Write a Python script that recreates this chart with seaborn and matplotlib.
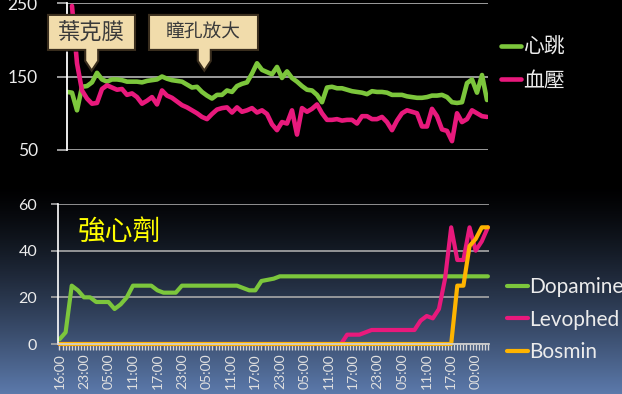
import numpy as np
import pandas as pd
import matplotlib
matplotlib.use("Agg")
import matplotlib.pyplot as plt
from matplotlib.patches import Polygon
from matplotlib.lines import Line2D
from matplotlib.ticker import MultipleLocator
import seaborn as sns

# ---------------- vital signs (regular samples) ----------------
heart_rate = [
    129, 128, 104, 136, 137, 142, 155, 146, 143, 146,
    146, 145, 143, 143, 143, 142, 144, 145, 146, 150,
    147, 145, 144, 143, 139, 135, 136, 129, 124, 120,
    125, 125, 131, 129, 137, 140, 142, 154, 168, 159,
    156, 153, 163, 148, 157, 148, 143, 137, 132, 131,
    125, 115, 135, 136, 134, 134, 132, 130, 129, 128,
    126, 130, 129, 129, 128, 125, 125, 125, 123, 122,
    121, 121, 122, 124, 124, 125, 122, 115, 114, 115,
    141, 146, 128, 152, 118,
]
blood_pressure = [
    np.nan, 246, 168, 131, 120, 113, 114, 133, 138, 135,
    132, 133, 125, 127, 122, 113, 117, 122, 112, 131,
    124, 121, 116, 111, 108, 104, 100, 95, 92, 99,
    105, 107, 108, 101, 108, 102, 104, 107, 101, 104,
    99, 85, 77, 88, 86, 104, 71, 107, 102, 106,
    112, 100, 91, 91, 92, 90, 91, 91, 86, 96,
    96, 92, 92, 95, 88, 77, 90, 100, 104, 102,
    100, 82, 82, 106, 96, 78, 76, 62, 100, 88,
    92, 104, 100, 96, 95,
]
vital_names = ["心跳", "血壓"]

# events marked on the vital-sign chart: (label, sample index)
events = [("葉克膜", 4.94), ("瞳孔放大", 27.46)]

# ---------------- inotropes / vasopressors ----------------
time_labels = ["16:00", "23:00", "05:00", "11:00", "17:00", "23:00",
               "05:00", "11:00", "17:00", "23:00", "05:00", "11:00",
               "17:00", "23:00", "05:00", "11:00", "17:00", "00:00"]
dopamine = [
    2, 5, 25, 23, 20, 20, 18, 18, 18, 15,
    17, 20, 25, 25, 25, 25, 23, 22, 22, 22,
    25, 25, 25, 25, 25, 25, 25, 25, 25, 25,
    24, 23, 23, 27, 27.5, 28, 29, 29, 29, 29,
    29, 29, 29, 29, 29, 29, 29, 29, 29, 29,
    29, 29, 29, 29, 29, 29, 29, 29, 29, 29,
    29, 29, 29, 29, 29, 29, 29, 29, 29, 29,
    29,
]
levophed = [
    0, 0, 0, 0, 0, 0, 0, 0, 0, 0,
    0, 0, 0, 0, 0, 0, 0, 0, 0, 0,
    0, 0, 0, 0, 0, 0, 0, 0, 0, 0,
    0, 0, 0, 0, 0, 0, 0, 0, 0, 0,
    0, 0, 0, 0, 0, 0, 0, 4, 4, 4,
    5, 6, 6, 6, 6, 6, 6, 6, 6, 10,
    12, 11, 15, 28, 50, 36, 36, 50, 40, 44,
    50,
]
bosmin = [
    0, 0, 0, 0, 0, 0, 0, 0, 0, 0,
    0, 0, 0, 0, 0, 0, 0, 0, 0, 0,
    0, 0, 0, 0, 0, 0, 0, 0, 0, 0,
    0, 0, 0, 0, 0, 0, 0, 0, 0, 0,
    0, 0, 0, 0, 0, 0, 0, 0, 0, 0,
    0, 0, 0, 0, 0, 0, 0, 0, 0, 0,
    0, 0, 0, 0, 0, 25, 25, 42, 45, 50,
    50,
]
drug_names = ["Dopamine", "Levophed", "Bosmin"]

GREEN, PINK, ORANGE = "#7cc63c", "#e8197c", "#ffb400"
GRID = "#a8a8a8"
TEXT = "#ececec"

sns.set_theme(style="ticks")
plt.rcParams["font.family"] = ["Lato", "Noto Sans CJK TC", "DejaVu Sans"]

W, H = 622, 394
fig = plt.figure(figsize=(W / 100, H / 100), dpi=100)

# slide background: black fading into blue towards the bottom
bg = fig.add_axes([0, 0, 1, 1], zorder=-10)
rows = np.arange(H)
t = np.clip((rows - 185) / (H - 185), 0, 1) ** 1.3
grad = np.outer(t, [92, 122, 172]) / 255.0
bg.imshow(np.repeat(grad[:, None, :], 2, axis=1), aspect="auto",
          extent=[0, 1, 0, 1])
bg.axis("off")


def px_axes(left, top, right, bottom):
    return fig.add_axes([left / W, (H - bottom) / H,
                         (right - left) / W, (bottom - top) / H])


# ---------------- vital-sign chart ----------------
ax1 = px_axes(67, 3, 488, 150)
ax1.set_facecolor("none")
vit = pd.DataFrame({"sample": np.arange(len(heart_rate)),
                    vital_names[0]: heart_rate,
                    vital_names[1]: blood_pressure})
vit = vit.melt(id_vars="sample", var_name="series", value_name="value")
sns.lineplot(data=vit, x="sample", y="value", hue="series",
             palette={vital_names[0]: GREEN, vital_names[1]: PINK},
             estimator=None, lw=3.3, legend=False, ax=ax1)
ax1.set_xlim(0, len(heart_rate) - 0.8)
ax1.set_ylim(50, 250)
ax1.set_yticks([50, 150, 250])
ax1.set_xticks([])
ax1.set_xlabel("")
ax1.set_ylabel("")
ax1.grid(axis="y", color=GRID, lw=1.3)
ax1.set_axisbelow(True)
for s in ["top", "right", "bottom"]:
    ax1.spines[s].set_visible(False)
ax1.spines["left"].set_color("white")
ax1.spines["left"].set_linewidth(1.3)
ax1.tick_params(axis="y", length=7, width=1.3, color=GRID,
                labelcolor=TEXT, labelsize=12.5, pad=14)

# ---------------- drug chart ----------------
ax2 = px_axes(58, 204, 489, 344)
ax2.set_facecolor("none")
drugs = pd.DataFrame({"slot": np.arange(len(dopamine)),
                      drug_names[0]: dopamine,
                      drug_names[1]: levophed,
                      drug_names[2]: bosmin})
drugs = drugs.melt(id_vars="slot", var_name="drug", value_name="dose")
sns.lineplot(data=drugs, x="slot", y="dose", hue="drug",
             palette={drug_names[0]: GREEN, drug_names[1]: PINK,
                      drug_names[2]: ORANGE},
             estimator=None, lw=3.0, legend=False, ax=ax2)
for ln in ax2.lines:
    ln.set_clip_on(False)
ax2.set_xlim(-0.245, len(dopamine) - 0.82)
ax2.set_ylim(0, 60)
ax2.set_yticks([0, 20, 40, 60])
ax2.set_xticks(np.arange(len(time_labels)) * 4)
ax2.set_xticklabels(time_labels, rotation=90)
ax2.xaxis.set_minor_locator(MultipleLocator(0.5))
ax2.set_xlabel("")
ax2.set_ylabel("")
ax2.grid(axis="y", color=GRID, lw=1.2)
ax2.set_axisbelow(True)
for s in ["top", "right"]:
    ax2.spines[s].set_visible(False)
ax2.spines["left"].set_color("white")
ax2.spines["left"].set_linewidth(1.2)
ax2.spines["bottom"].set_color("#d0d0d0")
ax2.tick_params(axis="y", length=5, width=1.2, color=GRID,
                labelcolor=TEXT, labelsize=11.5, pad=10)
ax2.tick_params(axis="x", which="both", length=4, width=1.0,
                color="#d8d8d8", labelcolor="#e0e0e0", labelsize=10, pad=3)

fig.text(78 / W, 1 - 233 / H, "強心劑", color="#ffff00", fontsize=20,
         family=["Noto Sans CJK TC"], va="center", ha="left")

# ---------------- legends ----------------
fig.legend(handles=[Line2D([], [], color=GREEN, lw=3.3),
                    Line2D([], [], color=PINK, lw=3.3)],
           labels=vital_names, loc="upper left",
           bbox_to_anchor=(501 / W, 1 - 37 / H), frameon=False,
           fontsize=15, labelcolor=TEXT, handlelength=0.98,
           handletextpad=0.1, borderpad=0, borderaxespad=0,
           labelspacing=0.65)
fig.legend(handles=[Line2D([], [], color=GREEN, lw=3.0),
                    Line2D([], [], color=PINK, lw=3.0),
                    Line2D([], [], color=ORANGE, lw=3.0)],
           labels=drug_names, loc="upper left",
           bbox_to_anchor=(507 / W, 1 - 277 / H), frameon=False,
           fontsize=15, labelcolor=TEXT, handlelength=1.0,
           handletextpad=0.05, borderpad=0, borderaxespad=0,
           labelspacing=0.6)

# ---------------- event callouts ----------------
to_fig = fig.transFigure.inverted()
callout_geom = {"葉克膜": (-43.7, 43.3, 16), "瞳孔放大": (-55.3, 53.7, 13.5)}
for label, k in events:
    left, right, fs = callout_geom[label]
    tx, ty = ax1.transData.transform((k, 158))
    pts = [(tx, ty), (tx + 6.5, ty + 9.7), (tx + 6.5, ty + 20.7),
           (tx + right, ty + 20.7), (tx + right, ty + 55.7),
           (tx + left, ty + 55.7), (tx + left, ty + 20.7),
           (tx - 6.5, ty + 20.7), (tx - 6.5, ty + 9.7)]
    shadow = [(x + 2, y - 2) for x, y in pts]
    fig.patches.append(Polygon(to_fig.transform(shadow), closed=True,
                               transform=fig.transFigure, fc="#000000",
                               ec="none", alpha=0.6, zorder=5))
    fig.patches.append(Polygon(to_fig.transform(pts), closed=True,
                               transform=fig.transFigure, fc="#f1dcab",
                               ec="#3a2e1e", lw=1.5, zorder=6))
    cx, cy = to_fig.transform((tx + (left + right) / 2, ty + 38.2))
    fig.text(cx, cy, label, fontsize=fs, color="#3a3a3a",
             family=["Noto Sans CJK TC"], ha="center", va="center",
             zorder=7)

fig.savefig("out.png", dpi=100, facecolor="black")
